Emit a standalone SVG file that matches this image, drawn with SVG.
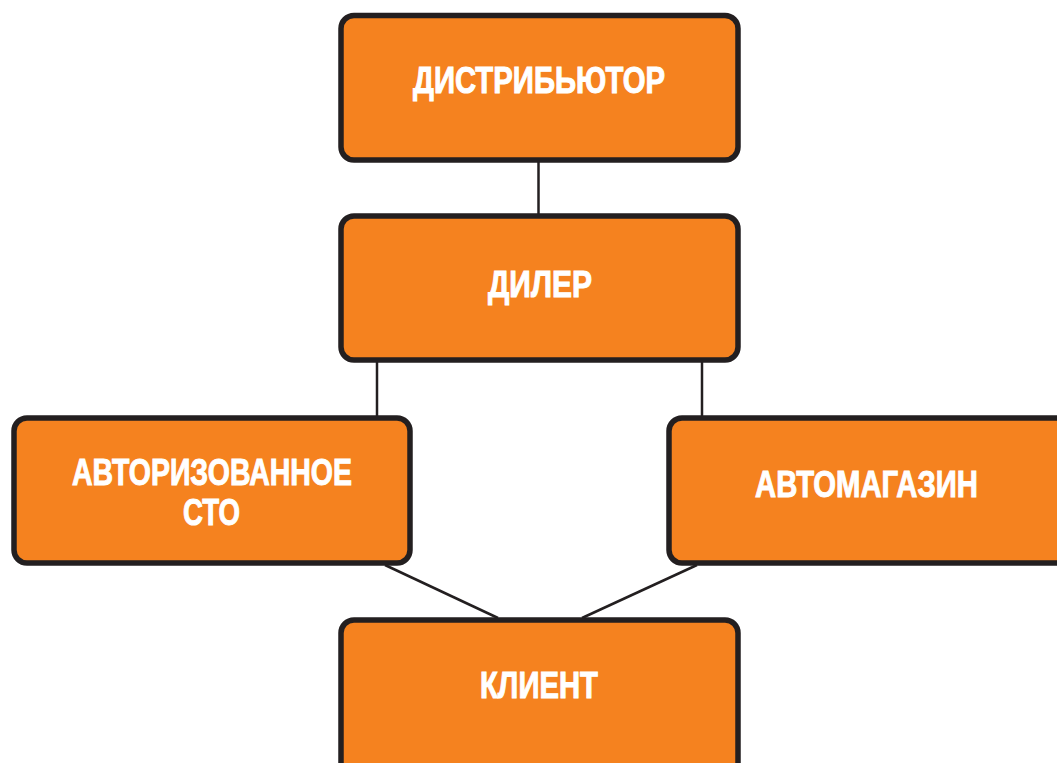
<svg xmlns="http://www.w3.org/2000/svg" width="1057" height="763" viewBox="0 0 1057 763">
<style>
.box{fill:#F5821F;stroke:#231F20;stroke-width:5.5}
.lbl{font-family:"Liberation Sans",Arial,sans-serif;font-weight:bold;font-size:37px;fill:#FFFFFF;stroke:#FFFFFF;stroke-width:1}
.conn{stroke:#231F20;stroke-width:2.5;fill:none}
</style>
<rect width="1057" height="763" fill="#FFFFFF"/>
<g id="connectors">
<line class="conn" x1="538.5" y1="162" x2="538.5" y2="214"/>
<line class="conn" x1="377" y1="362" x2="377" y2="416"/>
<line class="conn" x1="702" y1="362" x2="702" y2="416"/>
<line class="conn" x1="385" y1="565" x2="498" y2="618"/>
<line class="conn" x1="697" y1="565" x2="582" y2="618"/>
</g>
<g id="distributor">
<rect class="box" x="341" y="15.5" width="397" height="144.5" rx="13"/>
<text class="lbl" x="413" y="93" textLength="252" lengthAdjust="spacingAndGlyphs">ДИСТРИБЬЮТОР</text>
</g>
<g id="dealer">
<rect class="box" x="341" y="216" width="397" height="144" rx="13"/>
<text class="lbl" x="488" y="297" textLength="104" lengthAdjust="spacingAndGlyphs">ДИЛЕР</text>
</g>
<g id="authorized-service">
<rect class="box" x="14" y="418" width="396" height="145" rx="13"/>
<text class="lbl" x="72" y="485" textLength="280" lengthAdjust="spacingAndGlyphs">АВТОРИЗОВАННОЕ</text>
<text class="lbl" x="183" y="525" textLength="57" lengthAdjust="spacingAndGlyphs">СТО</text>
</g>
<g id="auto-shop">
<rect class="box" x="669" y="418" width="400" height="145" rx="13"/>
<text class="lbl" x="755" y="497" textLength="223" lengthAdjust="spacingAndGlyphs">АВТОМАГАЗИН</text>
</g>
<g id="client">
<rect class="box" x="341" y="620" width="397" height="160" rx="13"/>
<text class="lbl" x="480" y="698" textLength="118" lengthAdjust="spacingAndGlyphs">КЛИЕНТ</text>
</g>
</svg>
